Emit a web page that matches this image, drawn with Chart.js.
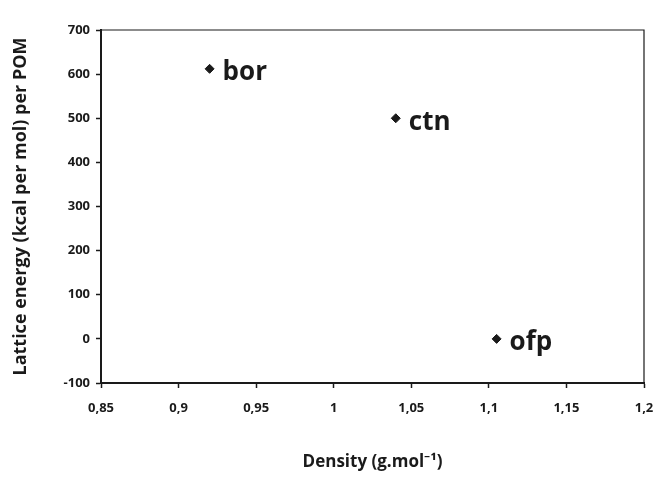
<!DOCTYPE html>
<html>
<head>
<meta charset="utf-8">
<script src="https://cdn.jsdelivr.net/npm/chart.js@4/dist/chart.umd.min.js"></script>
<style>
  html, body { margin: 0; padding: 0; background: #fff; }
  #wrap { width: 656px; height: 478px; }
</style>
</head>
<body>
<div id="wrap"><canvas id="chart"></canvas></div>
<script>
// data
const names = ['bor', 'ctn', 'ofp'];
const density = [0.92, 1.04, 1.105];
const energy = [612, 500, 0];

const FONT = "'Open Sans', 'Noto Sans', sans-serif";
const INK = '#1a1a1a';

// labels next to each point + top/right frame
const pointLabels = {
  id: 'pointLabels',
  afterDatasetsDraw(chart) {
    const { ctx, chartArea: a } = chart;
    ctx.save();
    ctx.strokeStyle = INK;
    ctx.lineWidth = 1.2;
    ctx.beginPath();
    ctx.moveTo(a.left, a.top);
    ctx.lineTo(a.right, a.top);
    ctx.lineTo(a.right, a.bottom);
    ctx.stroke();

    ctx.fillStyle = INK;
    ctx.font = 'bold 26px ' + FONT;
    ctx.textBaseline = 'middle';
    chart.getDatasetMeta(0).data.forEach((pt, i) => {
      ctx.fillText(names[i], pt.x + 13, pt.y + 4);
    });
    ctx.restore();
  }
};

new Chart(document.getElementById('chart'), {
  type: 'scatter',
  data: {
    datasets: [{
      data: density.map((d, i) => ({ x: d, y: energy[i] })),
      pointStyle: 'rectRot',
      pointRadius: 4.5,
      backgroundColor: INK,
      borderColor: INK
    }]
  },
  options: {
    responsive: true,
    maintainAspectRatio: false,
    animation: false,
    layout: { padding: { top: 30, right: 12, left: 0, bottom: 0 } },
    plugins: { legend: { display: false }, tooltip: { enabled: false } },
    scales: {
      x: {
        type: 'linear',
        min: 0.85,
        max: 1.2,
        afterFit: s => { s.height = 95; s.paddingRight = 0; s.paddingLeft = 0; },
        ticks: {
          stepSize: 0.05,
          padding: 12,
          color: INK,
          font: { family: FONT, size: 13, weight: 'bold' },
          callback: v => String(Math.round(v * 100) / 100).replace('.', ',')
        },
        grid: { drawOnChartArea: false, drawTicks: true, tickLength: 5, tickColor: INK, tickWidth: 1.5 },
        border: { color: INK, width: 2 },
        title: {
          display: true,
          text: 'Density (g.mol\u207B\u00B9)',
          color: INK,
          font: { family: FONT, size: 17, weight: 'bold' },
          padding: { top: 0, bottom: 6 }
        }
      },
      y: {
        min: -100,
        max: 700,
        afterFit: s => { s.width = 101; },
        ticks: {
          stepSize: 100,
          padding: 6,
          color: INK,
          font: { family: FONT, size: 13, weight: 'bold' }
        },
        grid: { drawOnChartArea: false, drawTicks: true, tickLength: 5, tickColor: INK, tickWidth: 1.5 },
        border: { color: INK, width: 2 },
        title: {
          display: true,
          text: 'Lattice energy (kcal per mol) per POM',
          color: INK,
          font: { family: FONT, size: 18, weight: 'bold' },
          padding: { top: 10, bottom: 0 }
        }
      }
    }
  },
  plugins: [pointLabels]
});
</script>
</body>
</html>
